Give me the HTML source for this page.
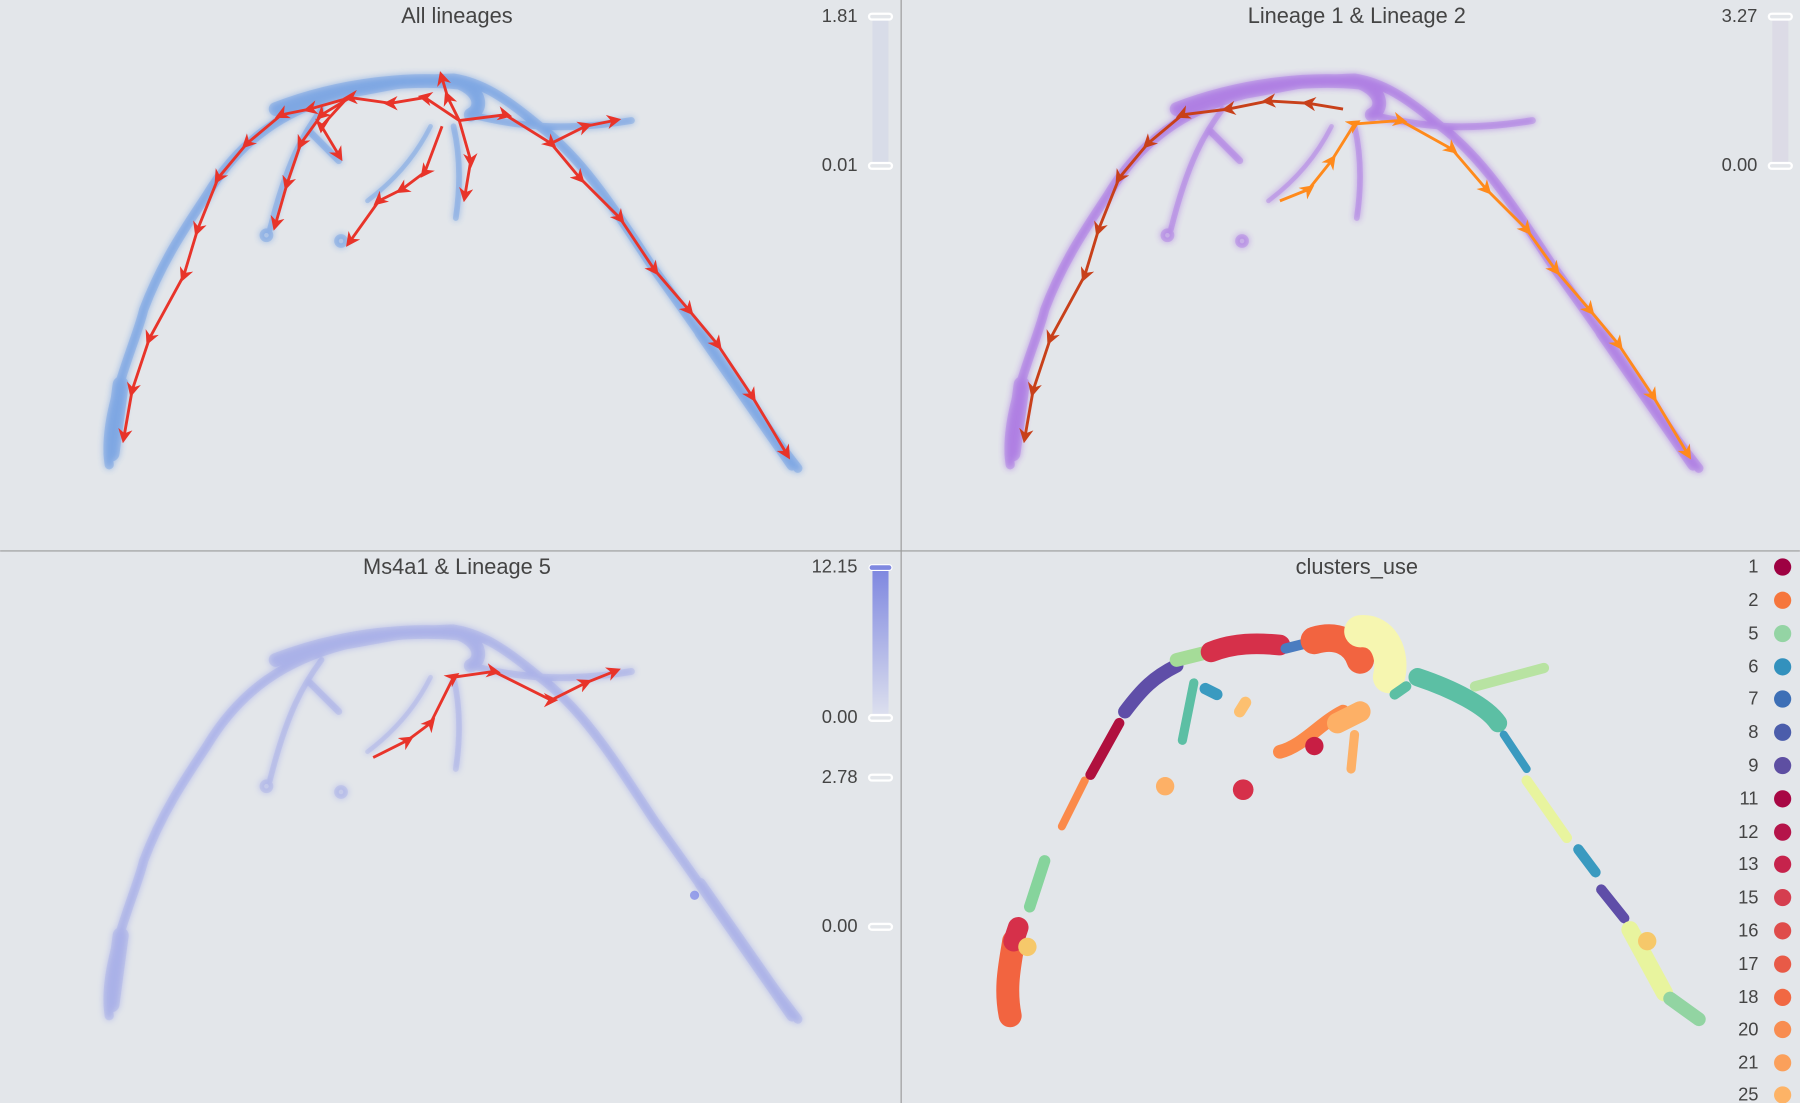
<!DOCTYPE html>
<html><head><meta charset="utf-8"><style>
html,body{margin:0;padding:0;background:#e3e6ea;}
svg{display:block;}
text{font-family:"Liberation Sans",sans-serif;fill:#444;}
</style></head><body>
<svg width="1800" height="1103" viewBox="0 0 1568 961" xmlns="http://www.w3.org/2000/svg">
<defs>
<filter id="bl" x="-10%" y="-10%" width="120%" height="120%"><feGaussianBlur stdDeviation="3"/></filter>
<marker id="arR" viewBox="0 0 10 10" refX="5" refY="5" markerWidth="5" markerHeight="5" orient="auto"><path d="M0,0 L10,5 L0,10 L3,5z" fill="#e8342a"/></marker>
<marker id="arD" viewBox="0 0 10 10" refX="5" refY="5" markerWidth="5" markerHeight="5" orient="auto"><path d="M0,0 L10,5 L0,10 L3,5z" fill="#c8401a"/></marker>
<marker id="arO" viewBox="0 0 10 10" refX="5" refY="5" markerWidth="5" markerHeight="5" orient="auto"><path d="M0,0 L10,5 L0,10 L3,5z" fill="#ff8a1c"/></marker>
<g id="shape" fill="none" stroke-linecap="round" stroke-linejoin="round">
<path d="M95,405 C88,360 118,300 125,270 C140,230 160,200 180,170 C210,120 250,95 300,82 C340,75 370,68 395,68 C420,72 440,85 470,110 C510,140 540,190 570,235 C610,290 650,350 695,408" stroke-width="8"/>
<path d="M97,395 L105,335" stroke-width="14"/>
<path d="M240,95 C300,72 360,68 400,72 C420,80 420,95 410,100" stroke-width="12"/>
<path d="M410,100 C450,110 490,115 550,105" stroke-width="6"/>
<path d="M280,95 C265,115 250,140 235,200" stroke-width="5"/>
<path d="M270,115 L295,140" stroke-width="6"/>
<path d="M395,110 C402,140 400,170 397,190" stroke-width="5"/>
<path d="M375,110 C360,140 340,160 320,175" stroke-width="4"/>
<path d="M610,290 L690,405" stroke-width="10"/>
<circle cx="232" cy="205" r="4" stroke-width="4"/>
<circle cx="297" cy="210" r="4" stroke-width="4"/>
</g>
</defs>
<rect width="1568" height="961" fill="#e3e6ea"/>
<line x1="785" y1="0" x2="785" y2="961" stroke="#999" stroke-width="1"/>
<line x1="0" y1="480" x2="1568" y2="480" stroke="#999" stroke-width="1"/>

<use href="#shape" stroke="#3a7de0" opacity="0.45" filter="url(#bl)"/>
<use href="#shape" stroke="#3a7de0" opacity="0.25"/>
<g fill="none" stroke="#e8342a" stroke-width="2.5" marker-mid="url(#arR)" marker-end="url(#arR)">
<polyline points="400,105 370,85 340,90 305,85 270,95 245,100 215,125 190,155 172,200 160,240 130,295 115,340 108,380"/>
<polyline points="400,105 440,100 480,125 505,155 540,190 570,235 600,270 625,300 655,345 685,395"/>
<polyline points="480,125 510,110 535,105"/>
<polyline points="305,85 280,100 262,125 250,160 240,195"/>
<polyline points="300,88 280,110 295,135"/>
<polyline points="400,105 410,140 405,170"/>
<polyline points="385,110 370,150 350,165 330,175 305,210"/>
<polyline points="400,105 390,85 385,68"/>
</g>
<text x="398" y="20" font-size="19" text-anchor="middle">All lineages</text>
<text x="747" y="19" font-size="16" text-anchor="end">1.81</text>
<text x="747" y="149" font-size="16" text-anchor="end">0.01</text>
<rect x="760" y="17" width="14" height="126" fill="#d8dce8"/>
<rect x="757" y="12" width="20" height="5" rx="2.5" fill="none" stroke="#fff" stroke-width="2"/>
<rect x="757" y="142" width="20" height="5" rx="2.5" fill="none" stroke="#fff" stroke-width="2"/>

<g transform="translate(785,0)">
<use href="#shape" stroke="#8a35e0" opacity="0.45" filter="url(#bl)"/>
<use href="#shape" stroke="#8a35e0" opacity="0.22"/>
</g>
<g fill="none" stroke-width="2.5">
<polyline stroke="#c8401a" marker-mid="url(#arD)" marker-end="url(#arD)" points="1170,95 1140,90 1105,88 1070,95 1030,100 1000,125 975,155 957,200 945,240 915,295 900,340 893,380"/>
<polyline stroke="#ff8a1c" marker-mid="url(#arO)" marker-end="url(#arO)" points="1115,175 1140,165 1160,140 1180,108 1220,105 1265,130 1295,165 1330,200 1355,235 1385,270 1410,300 1440,345 1470,395"/>
</g>
<text x="1182" y="20" font-size="19" text-anchor="middle">Lineage 1 &amp; Lineage 2</text>
<text x="1531" y="19" font-size="16" text-anchor="end">3.27</text>
<text x="1531" y="149" font-size="16" text-anchor="end">0.00</text>
<rect x="1544" y="17" width="14" height="126" fill="#dcdbe6"/>
<rect x="1541" y="12" width="20" height="5" rx="2.5" fill="none" stroke="#fff" stroke-width="2"/>
<rect x="1541" y="142" width="20" height="5" rx="2.5" fill="none" stroke="#fff" stroke-width="2"/>

<g transform="translate(0,480)">
<use href="#shape" stroke="#6672e8" opacity="0.35" filter="url(#bl)"/>
<use href="#shape" stroke="#6672e8" opacity="0.15"/>
</g>
<circle cx="605" cy="780" r="4" fill="#6672e8" opacity="0.6"/>
<polyline fill="none" stroke="#e8342a" stroke-width="2.5" marker-mid="url(#arR)" marker-end="url(#arR)" points="325,660 355,645 375,630 395,590 430,585 480,610 510,595 535,585"/>
<text x="398" y="500" font-size="19" text-anchor="middle">Ms4a1 &amp; Lineage 5</text>
<text x="747" y="499" font-size="16" text-anchor="end">12.15</text>
<text x="747" y="630" font-size="16" text-anchor="end">0.00</text>
<text x="747" y="682" font-size="16" text-anchor="end">2.78</text>
<text x="747" y="812" font-size="16" text-anchor="end">0.00</text>
<defs><linearGradient id="g3" x1="0" y1="0" x2="0" y2="1"><stop offset="0" stop-color="#7f88e0"/><stop offset="1" stop-color="#dde0ee"/></linearGradient></defs>
<rect x="760" y="497" width="14" height="127" fill="url(#g3)"/>
<rect x="757" y="492" width="20" height="5" rx="2.5" fill="#7f88e0" stroke="#fff" stroke-width="1"/>
<rect x="757" y="623" width="20" height="5" rx="2.5" fill="none" stroke="#fff" stroke-width="2"/>
<rect x="757" y="675" width="20" height="5" rx="2.5" fill="none" stroke="#fff" stroke-width="2"/>
<rect x="757" y="805" width="20" height="5" rx="2.5" fill="none" stroke="#fff" stroke-width="2"/>

<g transform="translate(785,480)" fill="none" stroke-linecap="round" stroke-linejoin="round">
<path d="M95,405 C90,380 95,360 98,340" stroke="#f26440" stroke-width="20"/>
<path d="M98,340 L102,328" stroke="#d6304a" stroke-width="18"/>
<path d="M112,310 L125,270" stroke="#86d49c" stroke-width="10"/>
<path d="M140,240 L160,200" stroke="#fb8a4a" stroke-width="7"/>
<path d="M165,195 L190,150" stroke="#b0103e" stroke-width="9"/>
<path d="M195,140 C210,120 220,110 240,100" stroke="#5f4ea8" stroke-width="12"/>
<path d="M240,95 L268,88" stroke="#a5dc98" stroke-width="12"/>
<path d="M270,88 C290,80 310,80 330,82" stroke="#d6304a" stroke-width="18"/>
<path d="M335,85 L355,80" stroke="#4a7cc0" stroke-width="9"/>
<path d="M360,78 C380,72 395,80 400,95" stroke="#f26440" stroke-width="24"/>
<path d="M400,70 C420,68 430,90 425,110" stroke="#f6f6b0" stroke-width="28"/>
<path d="M450,110 C480,120 510,135 520,150" stroke="#5cbfa4" stroke-width="16"/>
<path d="M430,125 L440,118" stroke="#5cbfa4" stroke-width="9"/>
<path d="M500,118 L560,102" stroke="#b8e3a2" stroke-width="9"/>
<path d="M525,160 L545,190" stroke="#3a9ac0" stroke-width="7"/>
<path d="M545,200 L580,250" stroke="#e8f49e" stroke-width="9"/>
<path d="M590,260 L605,280" stroke="#3a9ac0" stroke-width="9"/>
<path d="M610,295 L630,320" stroke="#5f4ea8" stroke-width="9"/>
<path d="M635,330 L665,385" stroke="#e8f49e" stroke-width="15"/>
<path d="M670,390 L695,408" stroke="#92d4a2" stroke-width="12"/>
<path d="M255,115 L245,165" stroke="#5cbfa4" stroke-width="8"/>
<path d="M265,120 L275,125" stroke="#3a9ac0" stroke-width="10"/>
<path d="M295,140 L300,132" stroke="#fdc070" stroke-width="10"/>
<path d="M330,175 C350,170 365,150 385,140" stroke="#fb8a4a" stroke-width="12"/>
<path d="M380,150 L400,140" stroke="#fdb066" stroke-width="18"/>
<path d="M395,160 L392,190" stroke="#fdb066" stroke-width="8"/>
<circle cx="360" cy="170" r="8" fill="#c81e44" stroke="none"/>
<circle cx="298" cy="208" r="9" fill="#d6304a" stroke="none"/>
<circle cx="230" cy="205" r="8" fill="#fdb066" stroke="none"/>
<circle cx="110" cy="345" r="8" fill="#f6c86a" stroke="none"/>
<circle cx="650" cy="340" r="8" fill="#f6c86a" stroke="none"/>
</g>
<text x="1182" y="500" font-size="19" text-anchor="middle">clusters_use</text>
<g font-size="16" text-anchor="end">
<text x="1532" y="499">1</text><text x="1532" y="528">2</text><text x="1532" y="557">5</text><text x="1532" y="586">6</text>
<text x="1532" y="614">7</text><text x="1532" y="643">8</text><text x="1532" y="672">9</text><text x="1532" y="701">11</text>
<text x="1532" y="730">12</text><text x="1532" y="758">13</text><text x="1532" y="787">15</text><text x="1532" y="816">16</text>
<text x="1532" y="845">17</text><text x="1532" y="874">18</text><text x="1532" y="902">20</text><text x="1532" y="931">21</text><text x="1532" y="959">25</text>
</g>
<g>
<circle cx="1553" cy="494" r="7.5" fill="#9e0142"/><circle cx="1553" cy="523" r="7.5" fill="#f6763c"/>
<circle cx="1553" cy="552" r="7.5" fill="#94d4a4"/><circle cx="1553" cy="581" r="7.5" fill="#3391bd"/>
<circle cx="1553" cy="609" r="7.5" fill="#3d6fb6"/><circle cx="1553" cy="638" r="7.5" fill="#4b5dab"/>
<circle cx="1553" cy="667" r="7.5" fill="#5e4fa2"/><circle cx="1553" cy="696" r="7.5" fill="#a80744"/>
<circle cx="1553" cy="725" r="7.5" fill="#b5144a"/><circle cx="1553" cy="753" r="7.5" fill="#c6234c"/>
<circle cx="1553" cy="782" r="7.5" fill="#d53e4f"/><circle cx="1553" cy="811" r="7.5" fill="#df4c4b"/>
<circle cx="1553" cy="840" r="7.5" fill="#e85a47"/><circle cx="1553" cy="869" r="7.5" fill="#f16843"/>
<circle cx="1553" cy="897" r="7.5" fill="#f88d51"/><circle cx="1553" cy="926" r="7.5" fill="#fba05b"/>
<circle cx="1553" cy="954" r="7.5" fill="#fdb366"/>
</g>
</svg>
</body></html>
